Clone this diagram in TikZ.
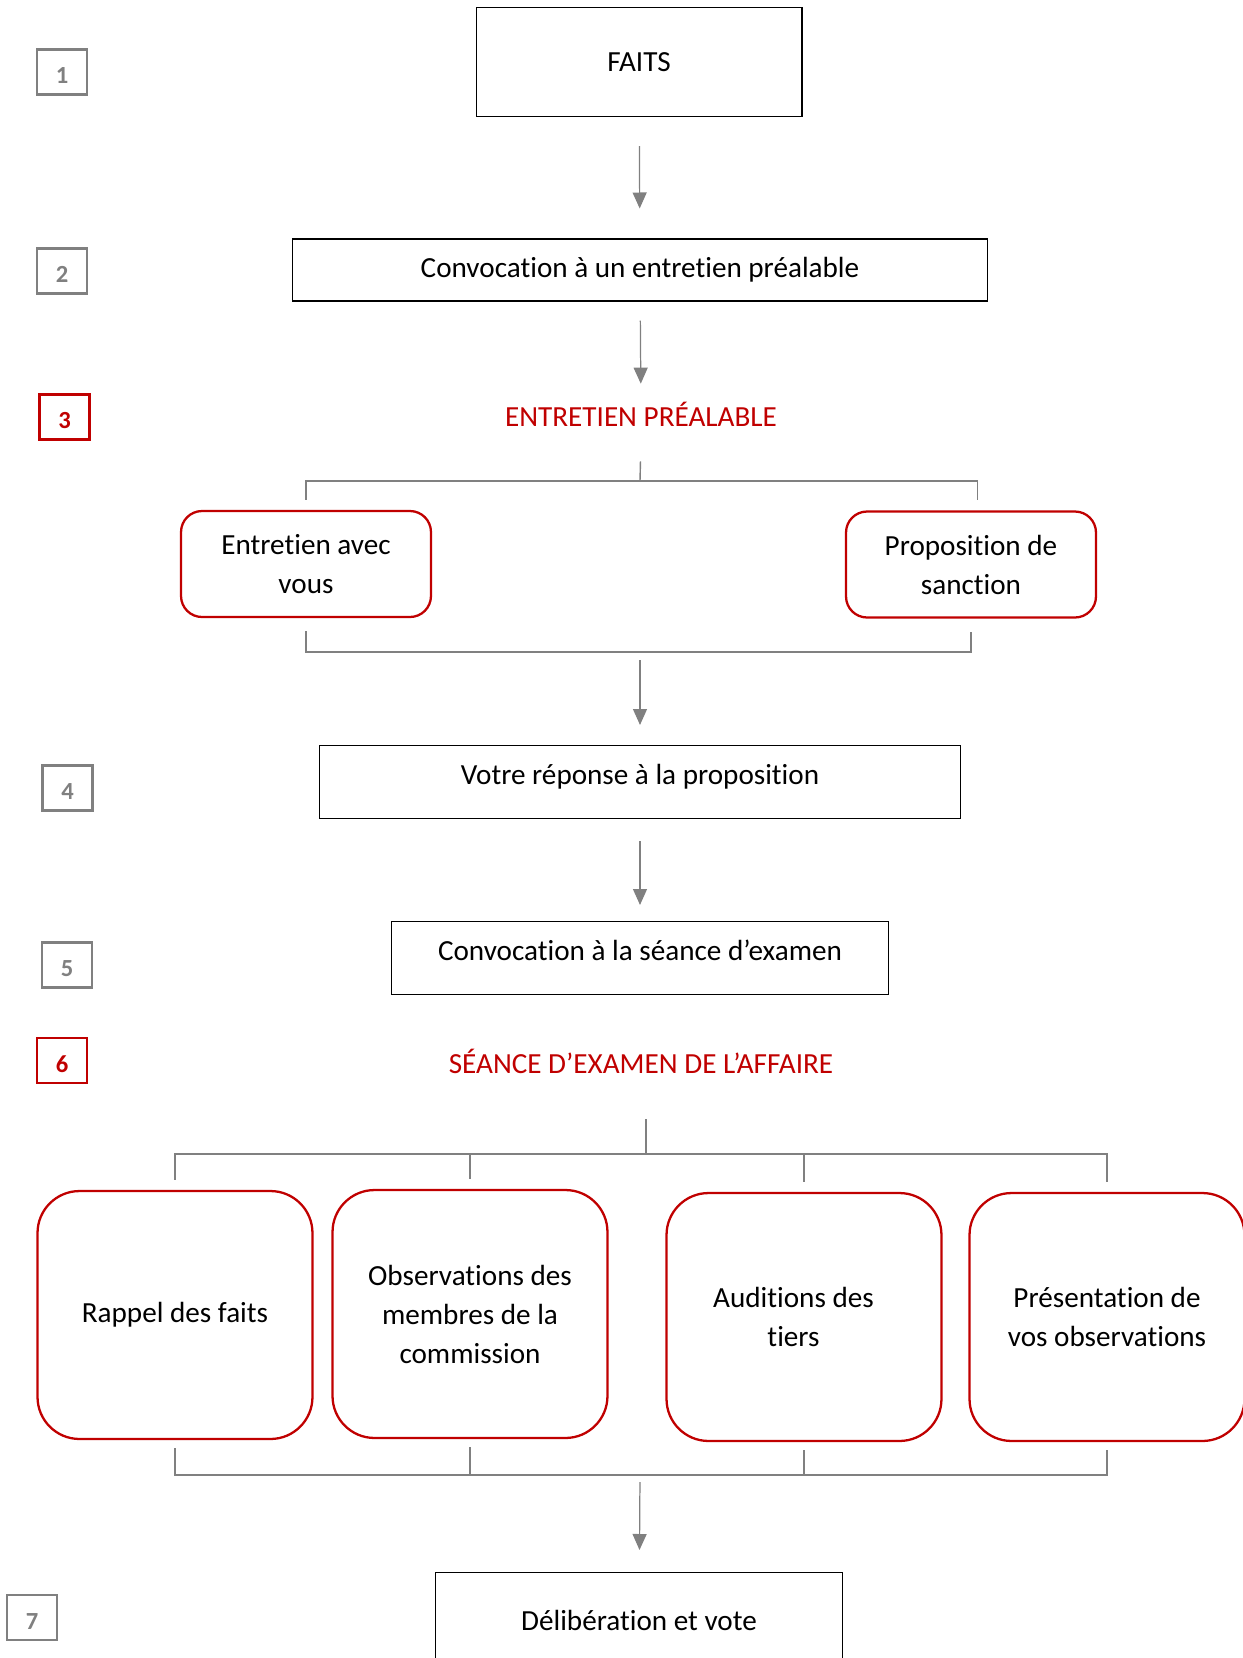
\documentclass[tikz,border=0pt]{standalone}
\usepackage{fontspec}
\setmainfont{Carlito}[Ligatures=NoCommon]
\usetikzlibrary{positioning,calc,arrows.meta}
\definecolor{numgray}{RGB}{128,128,128}
\definecolor{titlered}{RGB}{192,0,0}

\begin{document}
\begin{tikzpicture}[x=0.02cm,y=-0.02cm,
                    font=\fontsize{16.6}{22.2}\selectfont,
                    num box/.style={draw=numgray,line width=1.2pt,minimum width=1cm,minimum height=0.9cm,inner sep=0pt,text height=0.46cm,text depth=0cm,text=numgray,font=\fontsize{14}{16}\selectfont\bfseries},
                    red num/.style={num box,draw=titlered,text=titlered},
                    stage box/.style={draw=black,line width=0.6pt,inner sep=0pt},
                    sub box/.style={draw=titlered,line width=1.3pt,rounded corners=0.42cm,minimum width=5cm,minimum height=2.12cm,align=center},
                    big box/.style={draw=titlered,line width=1.3pt,rounded corners=0.84cm,minimum width=5.5cm,minimum height=4.96cm,align=center},
                    title/.style={text=titlered,minimum height=1cm},
                    flow/.style={draw=numgray,line width=0.7pt,-{Triangle[width=0.28cm,length=0.32cm]}},
                    branch/.style={draw=numgray,line width=0.8pt}
                   ]
   \useasboundingbox (0,0) rectangle (1243,1658);
   % step numbers
   \node[num box] (n1) at (62,72) {1};
   \node[num box] (n2) at (62,271) {2};
   \node[red num] (n3) at (64.5,417) {3};
   \node[num box] (n4) at (67.5,788) {4};
   \node[num box] (n5) at (67,965) {5};
   \node[red num] (n6) at (62,1060.5) {6};
   \node[num box] (n7) at (32,1617.5) {7};
   % main steps
   \node[stage box,minimum width=6.52cm,minimum height=2.18cm] (faits) at (639,62) {FAITS};
   \node[stage box,minimum width=13.92cm,minimum height=1.24cm] (convoc) at (640,270) {Convocation à un entretien préalable};
   \node[title] (entretien) at (641,414) {ENTRETIEN PRÉALABLE};
   \node[sub box] (avec) at (306,564) {Entretien avec\\vous};
   \node[sub box] (sanction) at (971,564.5) {Proposition de\\sanction};
   \node[stage box,minimum width=12.84cm,minimum height=1.46cm,text depth=0.29cm] (reponse) at (640,782) {Votre réponse à la proposition};
   \node[stage box,minimum width=9.94cm,minimum height=1.46cm,text depth=0.3cm] (examen) at (640,958) {Convocation à la séance d’examen};
   \node[title] (seance) at (641,1061) {SÉANCE D’EXAMEN DE L’AFFAIRE};
   \node[big box] (rappel) at (175,1315) {Rappel des faits};
   \node[big box] (observ) at (470,1314) {Observations des\\membres de la\\commission};
   \node[big box] (audit) at (804,1317) {Auditions des\hspace*{0.42cm}\\tiers\hspace*{0.42cm}};
   \node[big box] (present) at (1107,1317) {Présentation de\\vos observations};
   \node[stage box,minimum width=8.16cm,minimum height=2.1cm,text depth=0.17cm] (vote) at (639,1625) {Délibération et vote};
   \coordinate (j3) at (640,481);
   \coordinate (j4) at (640,652);
   \coordinate (j6) at (646,1154);
   \coordinate (j7) at (640,1475);
   % connectors
   \draw[flow,shorten <=0.58cm,shorten >=0.6cm] (faits) -- (convoc);
   \draw[flow,shorten <=0.38cm,shorten >=0.1cm] (convoc) -- (entretien);
   \draw[branch,shorten <=0.44cm] (entretien.south) -- (j3);
   \draw[branch] ([yshift=0.2cm]avec.north) |- (j3) -| ([xshift=0.13cm,yshift=0.2cm]sanction.north);
   \draw[branch] ([yshift=-0.26cm]avec.south) |- (j4) -| ([yshift=-0.26cm]sanction.south);
   \draw[flow,shorten <=0.16cm,shorten >=0.4cm] (j4) -- (reponse);
   \draw[flow,shorten <=0.44cm,shorten >=0.32cm] (reponse) -- (examen);
   \draw[branch,shorten >=0.66cm] (j6) -- (j6 |- seance.south);
   \draw[branch] ([yshift=0.2cm]rappel.north) |- (j6) -| ([yshift=0.2cm]present.north);
   \draw[branch] ([yshift=0.2cm]observ.north) -- (observ.north |- j6);
   \draw[branch] ([yshift=0.2cm]audit.north) -- (audit.north |- j6);
   \draw[branch] ([yshift=-0.16cm]rappel.south) |- (j7) -| ([yshift=-0.16cm]present.south);
   \draw[branch] ([yshift=-0.16cm]observ.south) -- (observ.south |- j7);
   \draw[branch] ([yshift=-0.16cm]audit.south) -- (audit.south |- j7);
   \draw[flow,shorten <=0.14cm,shorten >=0.44cm] (j7) -- (vote);
\end{tikzpicture}
\end{document}
